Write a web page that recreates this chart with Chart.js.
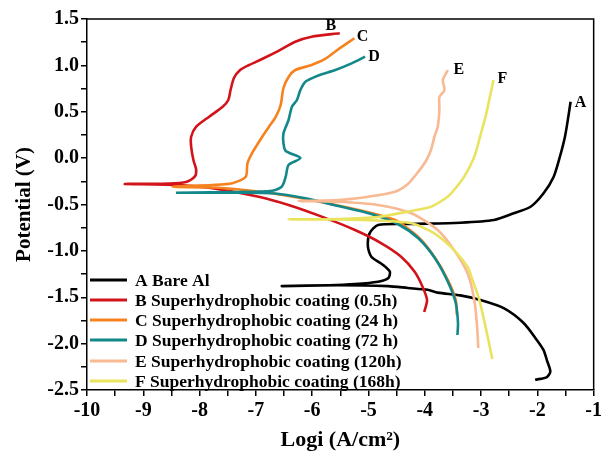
<!DOCTYPE html>
<html>
<head>
<meta charset="utf-8">
<script src="https://cdn.jsdelivr.net/npm/chart.js@4.4.1/dist/chart.umd.min.js"></script>
<style>
  html, body { margin: 0; padding: 0; background: #fff; }
  #tafel { display: block; }
</style>
</head>
<body>
<canvas id="tafel" width="605" height="457"></canvas>
<script>
// Tafel curves: log i (A/cm2) and potential (V)
const seriesNames = [
    'A Bare Al',
    'B Superhydrophobic coating (0.5h)',
    'C Superhydrophobic coating (24 h)',
    'D Superhydrophobic coating (72 h)',
    'E Superhydrophobic coating (120h)',
    'F Superhydrophobic coating (168h)'
];
const curveTags = ['A', 'B', 'C', 'D', 'E', 'F'];

const bareLogI = [-2.04, -1.83, -1.77, -1.83, -1.89, -2.01, -2.24, -2.59, -3.01, -3.37, -3.77, -3.95, -4.30, -4.65, -5.54, -6.54, -5.71, -5.24, -4.83, -4.65, -4.62, -4.74, -4.95, -5.01, -4.98, -4.83, -4.25, -3.37, -2.77, -2.42, -2.12, -1.89, -1.71, -1.60, -1.51, -1.45, -1.41];
const bareE = [-2.39, -2.36, -2.30, -2.18, -2.07, -1.96, -1.78, -1.62, -1.53, -1.48, -1.45, -1.42, -1.40, -1.38, -1.37, -1.38, -1.37, -1.357, -1.332, -1.296, -1.224, -1.152, -1.063, -0.955, -0.811, -0.721, -0.710, -0.696, -0.667, -0.595, -0.524, -0.379, -0.200, 0.015, 0.231, 0.447, 0.608];

const h05LogI = [-4.01, -3.96, -4.04, -4.18, -4.42, -4.77, -5.24, -5.83, -6.42, -6.95, -7.77, -8.36, -9.33, -8.54, -8.24, -8.09, -8.06, -8.11, -8.15, -8.15, -8.06, -7.83, -7.59, -7.49, -7.45, -7.39, -7.28, -7.12, -6.89, -6.59, -6.30, -6.01, -5.51];
const h05E = [-1.659, -1.530, -1.386, -1.225, -1.063, -0.918, -0.775, -0.631, -0.505, -0.416, -0.325, -0.290, -0.279, -0.274, -0.257, -0.203, -0.128, -0.020, 0.123, 0.231, 0.339, 0.447, 0.554, 0.627, 0.734, 0.864, 0.950, 1.004, 1.069, 1.160, 1.255, 1.309, 1.346];

const h24LogI = [-3.43, -3.45, -3.59, -3.83, -4.12, -4.53, -4.95, -5.54, -6.12, -6.71, -7.30, -7.77, -8.48, -7.77, -7.42, -7.18, -7.15, -7.07, -6.89, -6.77, -6.65, -6.56, -6.51, -6.42, -6.30, -6.01, -5.77, -5.54, -5.25];
const h24E = [-1.691, -1.530, -1.314, -1.063, -0.847, -0.667, -0.592, -0.511, -0.441, -0.379, -0.338, -0.317, -0.308, -0.290, -0.271, -0.200, -0.056, 0.052, 0.228, 0.336, 0.443, 0.573, 0.756, 0.875, 0.950, 1.004, 1.069, 1.171, 1.292];

const h72LogI = [-3.42, -3.41, -3.45, -3.58, -3.81, -4.11, -4.48, -4.95, -5.54, -6.12, -6.71, -7.30, -8.42, -7.30, -6.71, -6.54, -6.47, -6.42, -6.21, -6.47, -6.51, -6.51, -6.42, -6.36, -6.27, -6.21, -6.12, -5.89, -5.59, -5.30, -5.06];
const h72E = [-1.907, -1.778, -1.562, -1.346, -1.088, -0.867, -0.710, -0.602, -0.516, -0.433, -0.379, -0.373, -0.373, -0.365, -0.351, -0.308, -0.200, -0.074, 0.0, 0.077, 0.160, 0.268, 0.411, 0.554, 0.627, 0.734, 0.824, 0.891, 0.950, 1.022, 1.094];

const h120LogI = [-3.05, -3.07, -3.12, -3.24, -3.48, -3.77, -4.24, -4.83, -5.54, -6.24, -5.54, -5.01, -4.53, -4.30, -4.12, -3.98, -3.89, -3.83, -3.77, -3.74, -3.74, -3.65, -3.68, -3.59];
const h120E = [-2.047, -1.821, -1.530, -1.242, -0.991, -0.775, -0.595, -0.505, -0.470, -0.462, -0.452, -0.416, -0.362, -0.279, -0.150, -0.031, 0.088, 0.228, 0.339, 0.519, 0.659, 0.734, 0.842, 0.950];

const h168LogI = [-2.80, -2.92, -3.03, -3.14, -3.24, -3.48, -3.83, -4.24, -4.83, -5.54, -6.42, -5.54, -4.83, -4.24, -3.89, -3.65, -3.53, -3.30, -3.12, -3.01, -2.92, -2.83, -2.78];
const h168E = [-2.166, -1.821, -1.530, -1.336, -1.174, -0.991, -0.811, -0.703, -0.673, -0.662, -0.660, -0.656, -0.635, -0.570, -0.524, -0.441, -0.379, -0.200, 0.015, 0.249, 0.447, 0.699, 0.842];

const xTicks = { min: -10, max: -1, step: 0.5 };
const yTicks = { min: -2.5, max: 1.5, step: 0.25 };

const colors = ['#000000', '#d2141a', '#f5821f', '#13888a', '#f8b993', '#e9e35e'];
const serif = "'Liberation Serif', 'Times New Roman', serif";

const curves = [
    [bareLogI, bareE],
    [h05LogI, h05E],
    [h24LogI, h24E],
    [h72LogI, h72E],
    [h120LogI, h120E],
    [h168LogI, h168E]
];

const datasets = curves.map(([xs, ys], i) => ({
    label: seriesNames[i],
    data: xs.map((x, j) => ({ x: x, y: ys[j] })),
    borderColor: colors[i],
    backgroundColor: colors[i],
    borderWidth: 2.6,
    pointRadius: 0,
    tension: 0.25,
    fill: false,
    order: 6 - i
}));

// A..F tags next to the anodic ends of the curves
const tagOffsets = [[10, 1], [-9, -7], [8, -1], [9, 0], [11, 0], [9, -1]];

const decorations = {
    id: 'decorations',
    afterDraw(chart) {
        const ctx = chart.ctx;
        const area = chart.chartArea;
        ctx.save();

        // box on top and right
        ctx.strokeStyle = '#000';
        ctx.lineWidth = 1.5;
        ctx.beginPath();
        ctx.moveTo(area.left, area.top);
        ctx.lineTo(area.right, area.top);
        ctx.lineTo(area.right, area.bottom);
        ctx.stroke();

        // curve tags
        ctx.font = 'bold 16px ' + serif;
        ctx.fillStyle = '#000';
        ctx.textAlign = 'center';
        ctx.textBaseline = 'middle';
        chart.data.datasets.forEach((ds, i) => {
            const pts = chart.getDatasetMeta(i).data;
            const last = pts[pts.length - 1];
            ctx.fillText(curveTags[i], last.x + tagOffsets[i][0], last.y + tagOffsets[i][1]);
        });

        // legend in the lower left corner
        ctx.font = 'bold 17.5px ' + serif;
        ctx.textAlign = 'left';
        const rowY = [280, 300, 320, 340, 361, 381];
        chart.data.datasets.forEach((ds, i) => {
            ctx.strokeStyle = ds.borderColor;
            ctx.lineWidth = 3;
            ctx.beginPath();
            ctx.moveTo(area.left + 3, rowY[i]);
            ctx.lineTo(area.left + 40, rowY[i]);
            ctx.stroke();
            ctx.fillStyle = '#000';
            ctx.fillText(ds.label, area.left + 48, rowY[i] + 1);
        });
        ctx.restore();
    }
};

Chart.defaults.color = '#000';

new Chart(document.getElementById('tafel'), {
    type: 'line',
    data: { datasets: datasets },
    options: {
        responsive: false,
        animation: false,
        layout: { padding: { top: 19, right: 8, left: 0, bottom: 0 } },
        plugins: {
            legend: { display: false },
            tooltip: { enabled: false }
        },
        scales: {
            x: {
                type: 'linear',
                min: xTicks.min,
                max: xTicks.max,
                afterFit(scale) { scale.height = 67; },
                border: { display: true, color: '#000', width: 1.5 },
                grid: { drawOnChartArea: false, drawTicks: true, tickLength: 6, color: '#000', lineWidth: 1.5 },
                ticks: {
                    stepSize: xTicks.step,
                    autoSkip: false,
                    maxRotation: 0,
                    padding: 3,
                    font: { family: serif, size: 20, weight: 'bold' },
                    callback: v => Number.isInteger(v) ? String(v) : ''
                },
                title: {
                    display: true,
                    text: 'Logi (A/cm²)',
                    font: { family: serif, size: 22, weight: 'bold' },
                    padding: { top: 0, bottom: 3 }
                }
            },
            y: {
                type: 'linear',
                min: yTicks.min,
                max: yTicks.max,
                afterFit(scale) { scale.width = 87; },
                border: { display: true, color: '#000', width: 1.5 },
                grid: { drawOnChartArea: false, drawTicks: true, tickLength: 6, color: '#000', lineWidth: 1.5 },
                ticks: {
                    stepSize: yTicks.step,
                    autoSkip: false,
                    padding: 2,
                    font: { family: serif, size: 20, weight: 'bold' },
                    callback: v => Math.abs(v * 2 - Math.round(v * 2)) < 1e-6 ? v.toFixed(1) : ''
                },
                title: {
                    display: true,
                    text: 'Potential (V)',
                    font: { family: serif, size: 21, weight: 'bold' },
                    padding: { top: 12, bottom: 0 }
                }
            }
        }
    },
    plugins: [decorations]
});
</script>
</body>
</html>
